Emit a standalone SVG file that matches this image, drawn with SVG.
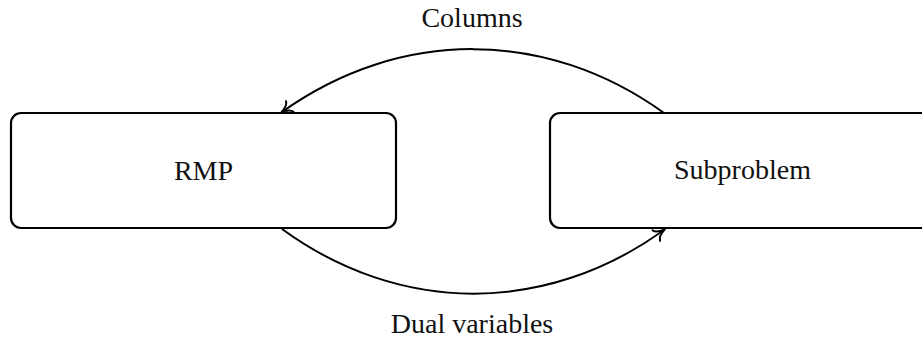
<svg xmlns="http://www.w3.org/2000/svg" width="922" height="339" viewBox="0 0 922 339">
<style>
.box{fill:#fff;stroke:#000;stroke-width:2.2}
.lbl{font-family:"Liberation Serif","DejaVu Serif",serif;font-size:28px;fill:#111;text-anchor:middle}
.edge{fill:none;stroke:#000;stroke-width:2;marker-end:url(#arr)}
</style>
<defs>
<marker id="arr" markerUnits="userSpaceOnUse" markerWidth="20" markerHeight="20" viewBox="-12 -10 14 20" refX="0" refY="0" orient="auto">
<path d="M-9.5,-6.5 C-8.5,-3 -3,-0.8 1,0 C-3,0.8 -8.5,3 -9.5,6.5" fill="none" stroke="#000" stroke-width="2" stroke-linecap="round" stroke-linejoin="round"/>
</marker>
</defs>
<g id="connectors">
<path class="edge" d="M664,113 C546,28 400,28 282,112"/>
<path class="edge" d="M282,229 C400,315 546,315 664,230"/>
<text class="lbl" x="472" y="27">Columns</text>
<text class="lbl" x="472" y="333">Dual variables</text>
</g>
<g id="rmp">
<rect class="box" x="11" y="113" width="385" height="115" rx="10"/>
<text class="lbl" x="203.5" y="180">RMP</text>
</g>
<g id="subproblem">
<rect class="box" x="550" y="113" width="385" height="115" rx="10"/>
<text class="lbl" x="742.5" y="179">Subproblem</text>
</g>
</svg>
